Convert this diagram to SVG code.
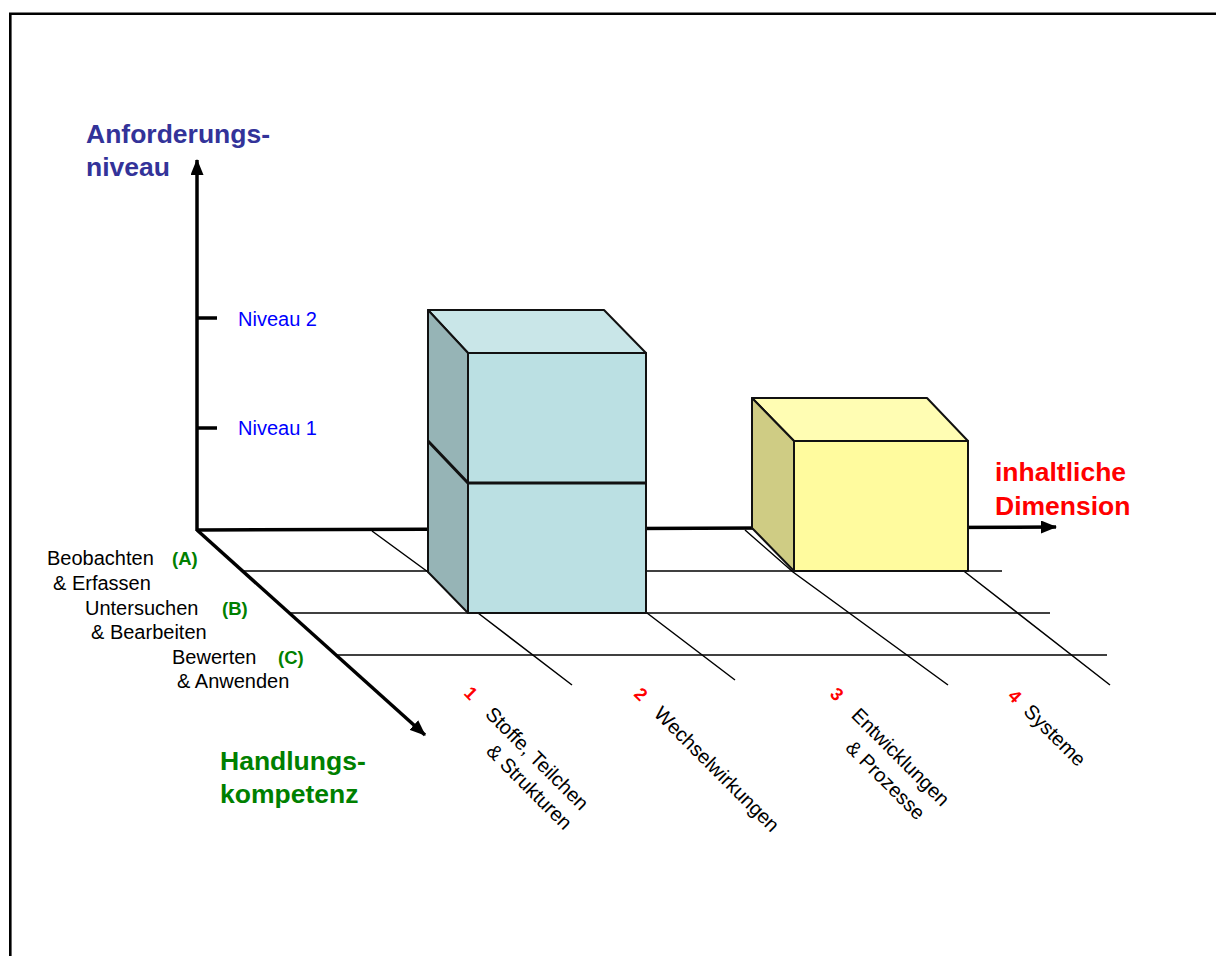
<svg xmlns="http://www.w3.org/2000/svg" width="1216" height="956" viewBox="0 0 1216 956">
<style>
text{font-family:"Liberation Sans",Arial,sans-serif}
.ax{stroke:#000;stroke-width:3.5;fill:none}
.grid{stroke:#000;stroke-width:1.5;fill:none}
.edge{stroke:#111;stroke-width:2;stroke-linejoin:round}
.lab{font-size:20px;fill:#000}
.big{font-size:26.5px;font-weight:bold}
.abc{font-size:18.5px;font-weight:bold;fill:#008000}
.niv{font-size:20px;fill:#0000FF}
.num{font-size:18px;font-weight:bold;fill:#FF0000}
</style>
<defs>
<marker id="arr" viewBox="0 0 16 13" refX="15" refY="6.5" markerWidth="16" markerHeight="13" markerUnits="userSpaceOnUse" orient="auto">
<path d="M0,0 L16,6.5 L0,13 Z" fill="#000"/>
</marker>
</defs>
<rect width="1216" height="956" fill="#fff"/>
<path d="M10.3,960 V13.7 H1220" fill="none" stroke="#000" stroke-width="2.6"/>

<g id="connectors">
<g id="grid">
<line class="grid" x1="244" y1="571" x2="1002" y2="571"/>
<line class="grid" x1="290" y1="613" x2="1050" y2="613"/>
<line class="grid" x1="337" y1="655" x2="1107" y2="655"/>
<polyline class="grid" points="372,531 428,572 478,613 572,685"/>
<polyline class="grid" points="538,530 647,613 735,680"/>
<polyline class="grid" points="745,530 793,572 948,685"/>
<polyline class="grid" points="911,530 965,572 1110,685"/>
</g>
<line id="axis-y" class="ax" x1="197" y1="531" x2="197" y2="160" marker-end="url(#arr)"/>
<line id="axis-x" class="ax" x1="197" y1="530" x2="1056" y2="527" marker-end="url(#arr)"/>
<line id="axis-z" class="ax" x1="197" y1="530" x2="425" y2="735" marker-end="url(#arr)"/>
<line class="ax" stroke-width="4" x1="197" y1="318" x2="217" y2="318"/>
<line class="ax" stroke-width="4" x1="197" y1="428" x2="217" y2="428"/>
</g>

<g id="box-cyan">
<polygon class="edge" points="428,310 604,310 646,353 468,353" fill="#C9E6E8"/>
<polygon class="edge" points="428,310 468,353 468,613 428,572" fill="#96B4B6"/>
<rect class="edge" x="468" y="353" width="178" height="260" fill="#BBE0E3"/>
<polyline fill="none" stroke="#111" stroke-width="3" points="428,441 468,483 646,483"/>
</g>

<g id="box-yellow">
<polygon class="edge" points="752,398 927,398 968,441 794,441" fill="#FFFDB3"/>
<polygon class="edge" points="752,398 794,441 794,571 752,528" fill="#CFCC84"/>
<rect class="edge" x="794" y="441" width="174" height="130" fill="#FFFB9E"/>
</g>

<g id="label-y">
<text class="big" fill="#333399" x="86" y="143">Anforderungs-</text>
<text class="big" fill="#333399" x="86" y="176">niveau</text>
</g>
<g id="label-niveau">
<text class="niv" x="238" y="325.5">Niveau 2</text>
<text class="niv" x="238" y="434.5">Niveau 1</text>
</g>
<g id="label-x">
<text class="big" fill="#FF0000" x="995" y="481">inhaltliche</text>
<text class="big" fill="#FF0000" x="995" y="515">Dimension</text>
</g>
<g id="label-z">
<text class="big" fill="#008000" x="220" y="770">Handlungs-</text>
<text class="big" fill="#008000" x="220" y="803">kompetenz</text>
</g>
<g id="level-A">
<text class="lab" x="47" y="565">Beobachten</text>
<text class="abc" x="172" y="565">(A)</text>
<text class="lab" x="53" y="590">&amp; Erfassen</text>
</g>
<g id="level-B">
<text class="lab" x="85" y="615">Untersuchen</text>
<text class="abc" x="222" y="615">(B)</text>
<text class="lab" x="91" y="639">&amp; Bearbeiten</text>
</g>
<g id="level-C">
<text class="lab" x="172" y="664">Bewerten</text>
<text class="abc" x="278" y="664">(C)</text>
<text class="lab" x="177" y="688">&amp; Anwenden</text>
</g>
<g id="cat-1" transform="translate(463,694) rotate(45)">
<text class="num" x="0" y="0">1</text>
<text class="lab" x="30" y="0">Stoffe, Teilchen</text>
<text class="lab" x="57" y="25.5">&amp; Strukturen</text>
</g>
<g id="cat-2" transform="translate(633,695) rotate(45)">
<text class="num" x="0" y="0">2</text>
<text class="lab" x="28" y="0">Wechselwirkungen</text>
</g>
<g id="cat-3" transform="translate(829,695) rotate(45)">
<text class="num" x="0" y="0">3</text>
<text class="lab" x="30" y="0">Entwicklungen</text>
<text class="lab" x="49" y="27">&amp; Prozesse</text>
</g>
<g id="cat-4" transform="translate(1007,697) rotate(45)">
<text class="num" x="0" y="0">4</text>
<text class="lab" x="22" y="0">Systeme</text>
</g>
</svg>
